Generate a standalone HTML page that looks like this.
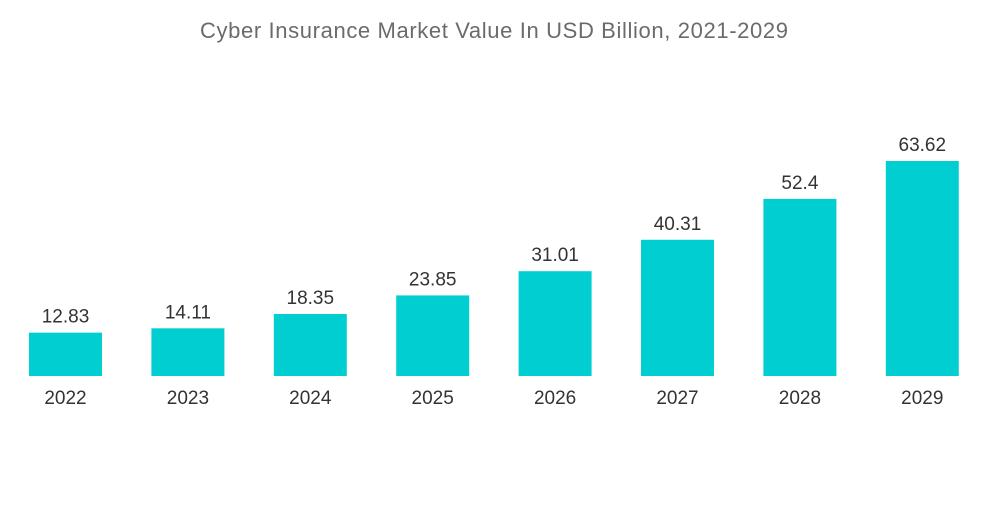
<!DOCTYPE html>
<html><head><meta charset="utf-8"><style>
body{margin:0;background:#fff;width:1000px;height:504px;overflow:hidden;font-family:"Liberation Sans",sans-serif}
</style></head><body>
<svg id="chart" width="1000" height="504" xmlns="http://www.w3.org/2000/svg">
<text x="494" y="38" text-anchor="middle" font-size="22" textLength="588" lengthAdjust="spacing" fill="#6b6b6b" font-family="Liberation Sans, sans-serif">Cyber Insurance Market Value In USD Billion, 2021-2029</text>
<g id="bars"></g>
</svg>
<script>
const categories=["2022","2023","2024","2025","2026","2027","2028","2029"];
const values=[12.83,14.11,18.35,23.85,31.01,40.31,52.4,63.62];
const valueLabels=["12.83","14.11","18.35","23.85","31.01","40.31","52.4","63.62"];
const baseY=376,scale=215/63.62,x0=29,step=122.4,bw=73;
const yOf=v=>baseY-v*scale;
const xOf=i=>x0+i*step;
const g=document.getElementById('bars');
const ns="http://www.w3.org/2000/svg";
categories.forEach((c,i)=>{
 const r=document.createElementNS(ns,'rect');
 
 
 r.setAttribute('x',xOf(i));r.setAttribute('y',yOf(values[i]));
 r.setAttribute('width',bw);r.setAttribute('height',baseY-yOf(values[i]));
 r.setAttribute('fill','#00ced1');g.appendChild(r);
 const t=document.createElementNS(ns,'text');
 
 
 t.setAttribute('x',xOf(i)+bw/2);t.setAttribute('y',yOf(values[i])-10);
 t.setAttribute('text-anchor','middle');t.setAttribute('font-size','19');t.setAttribute('fill','#333');
 t.textContent=valueLabels[i];g.appendChild(t);
 const l=document.createElementNS(ns,'text');
 
 
 l.setAttribute('x',xOf(i)+bw/2);l.setAttribute('y',404);
 l.setAttribute('text-anchor','middle');l.setAttribute('font-size','19');l.setAttribute('fill','#333');
 l.textContent=c;g.appendChild(l);
});
</script>
</body></html>
